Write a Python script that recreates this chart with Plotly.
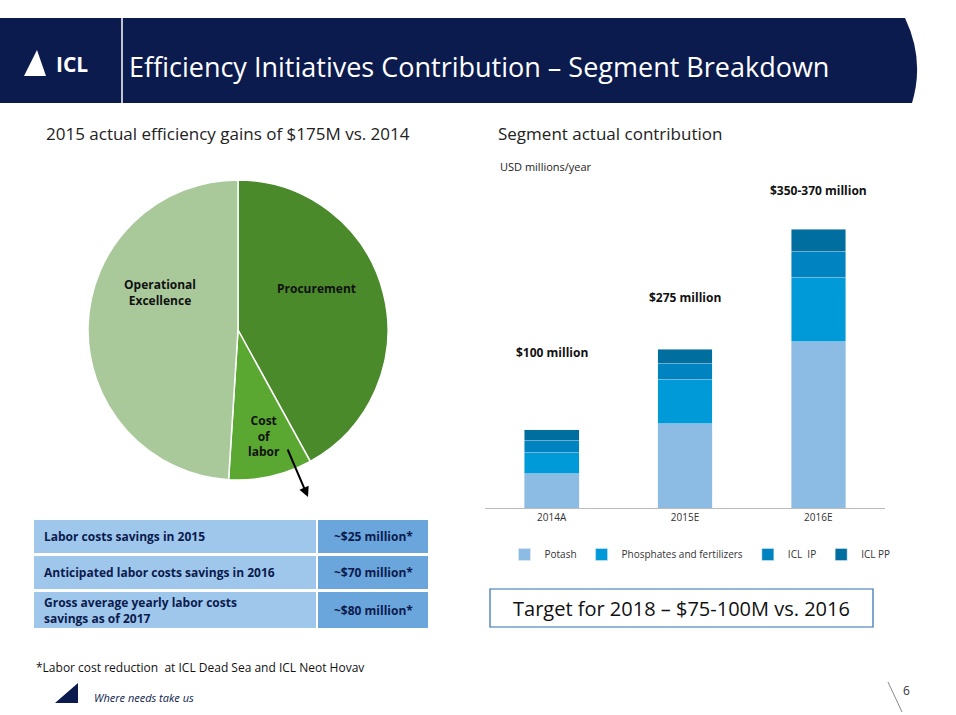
import plotly.graph_objects as go

W, H = 956, 715
FONT = "Open Sans"

pie_labels = ["Procurement", "Cost of labor", "Operational Excellence"]
pie_values = [42, 9, 49]
pie_colors = ["#4a8a2a", "#5aa832", "#a9c99b"]

years = ["2014A", "2015E", "2016E"]
potash = [44, 108, 213]
phosphates = [27, 56, 82]
icl_ip = [15, 21, 33]
icl_pp = [14, 18, 29]
bar_labels = ["$100 million", "$275 million", "$350-370 million"]

table_rows = ["Labor costs savings in 2015",
              "Anticipated labor costs savings in 2016",
              "Gross average yearly labor costs<br>savings as of 2017"]
table_vals = ["~$25 million*", "~$70 million*", "~$80 million*"]


def px(x):
    return x / W


def py(y):
    return 1 - y / H


fig = go.Figure()

fig.add_trace(go.Pie(
    labels=pie_labels, values=pie_values, sort=False, direction="clockwise",
    marker=dict(colors=pie_colors, line=dict(color="white", width=1.5)),
    textinfo="none", hoverinfo="label", showlegend=False,
    domain=dict(x=[px(88), px(388)], y=[py(480), py(180)]),
))

series = [("Potash", potash, "#8cbbe3"),
          ("Phosphates and fertilizers", phosphates, "#009ad9"),
          ("ICL  IP", icl_ip, "#0083c1"),
          ("ICL PP", icl_pp, "#006f9f")]
for name, vals, col in series:
    fig.add_trace(go.Bar(x=years, y=vals, name=name, marker_color=col,
                         width=0.41, xaxis="x", yaxis="y"))

shapes = []
annos = []

# header
shapes.append(dict(type="path", xref="paper", yref="paper", layer="below",
                   path=f"M 0 {py(18)} L {px(905)} {py(18)} Q {px(925)} {py(60)} {px(912)} {py(103)} L 0 {py(103)} Z",
                   fillcolor="#0b1b4d", line=dict(width=0)))
shapes.append(dict(type="line", xref="paper", yref="paper", x0=px(122), x1=px(122),
                   y0=py(18), y1=py(103), line=dict(color="white", width=1.5)))
shapes.append(dict(type="path", xref="paper", yref="paper",
                   path=f"M {px(24)} {py(76)} L {px(37)} {py(50)} L {px(46)} {py(76)} Z",
                   fillcolor="white", line=dict(width=0)))
annos.append(dict(x=px(127), y=py(66), text="Efficiency Initiatives Contribution – Segment Breakdown",
                  xanchor="left", yanchor="middle", font=dict(size=27, color="white", family=FONT)))
annos.append(dict(x=px(72), y=py(64), text="<b>ICL</b>", xanchor="center", yanchor="middle",
                  font=dict(size=21, color="white", family=FONT)))

# section titles
annos.append(dict(x=px(44), y=py(133), text="2015 actual efficiency gains of $175M vs. 2014",
                  xanchor="left", yanchor="middle", font=dict(size=17, color="#222222", family=FONT)))
annos.append(dict(x=px(496), y=py(133), text="Segment actual contribution",
                  xanchor="left", yanchor="middle", font=dict(size=17, color="#222222", family=FONT)))
annos.append(dict(x=px(498), y=py(166), text="USD millions/year",
                  xanchor="left", yanchor="middle", font=dict(size=11, color="#222222", family=FONT)))

# pie labels
for t, x, y in [("Procurement", 316, 288), ("Operational<br>Excellence", 160, 292),
                ("Cost<br>of<br>labor", 264, 436)]:
    annos.append(dict(x=px(x), y=py(y), text="<b>" + t + "</b>", xanchor="center", yanchor="middle",
                      font=dict(size=12, color="#111111", family=FONT)))
annos.append(dict(x=px(308), y=py(497), ax=-21, ay=-49, text="", showarrow=True, arrowhead=2,
                  arrowwidth=2, arrowcolor="black"))

# table
rows_y = [(520, 553), (556, 589), (592, 628)]
for (y0, y1), lab, val in zip(rows_y, table_rows, table_vals):
    shapes.append(dict(type="rect", xref="paper", yref="paper", x0=px(34), x1=px(316),
                       y0=py(y1), y1=py(y0), fillcolor="#9fc7ec", line=dict(width=0)))
    shapes.append(dict(type="rect", xref="paper", yref="paper", x0=px(318), x1=px(428),
                       y0=py(y1), y1=py(y0), fillcolor="#6aa5dc", line=dict(width=0)))
    ym = py((y0 + y1) / 2)
    annos.append(dict(x=px(42), y=ym, text="<b>" + lab + "</b>", xanchor="left", yanchor="middle",
                      align="left", font=dict(size=12, color="#0b1b4d", family=FONT)))
    annos.append(dict(x=px(373), y=ym, text="<b>" + val + "</b>", xanchor="center", yanchor="middle",
                      font=dict(size=12, color="#0b1b4d", family=FONT)))

# target box
shapes.append(dict(type="rect", xref="paper", yref="paper", x0=px(490), x1=px(873),
                   y0=py(627), y1=py(589), fillcolor="white", line=dict(color="#2d6db3", width=1.2)))
annos.append(dict(x=px(681), y=py(608), text="Target for 2018 – $75-100M vs. 2016", xanchor="center",
                  yanchor="middle", font=dict(size=20, color="#111111", family=FONT)))

# footer
annos.append(dict(x=px(34), y=py(667), text="*Labor cost reduction  at ICL Dead Sea and ICL Neot Hovav",
                  xanchor="left", yanchor="middle", font=dict(size=12, color="#111111", family=FONT)))
annos.append(dict(x=px(92), y=py(697), text="<i>Where needs take us</i>", xanchor="left",
                  yanchor="middle", font=dict(size=11, color="#0b1b4d", family=FONT)))
annos.append(dict(x=px(906), y=py(690), text="6", xanchor="center", yanchor="middle",
                  font=dict(size=12, color="#333333", family=FONT)))
shapes.append(dict(type="path", xref="paper", yref="paper",
                   path=f"M {px(55)} {py(703)} L {px(78)} {py(683)} L {px(78)} {py(703)} Z",
                   fillcolor="#0b1b4d", line=dict(width=0)))
shapes.append(dict(type="line", xref="paper", yref="paper", x0=px(888), x1=px(902),
                   y0=py(682), y1=py(712), line=dict(color="#888888", width=1)))

for a in annos:
    a.setdefault("xref", "paper")
    a.setdefault("yref", "paper")
    a.setdefault("showarrow", False)

fig.update_layout(
    width=W, height=H, margin=dict(l=0, r=0, t=0, b=0),
    paper_bgcolor="white", plot_bgcolor="white",
    barmode="stack",
    font=dict(family=FONT),
    xaxis=dict(domain=[px(485), px(885)], showgrid=False, showline=True, linecolor="#bbbbbb",
               ticks="", tickfont=dict(size=10, color="#333333")),
    yaxis=dict(domain=[py(508), py(180)], range=[0, 420], visible=False),
    legend=dict(orientation="h", x=px(700), xanchor="center", y=py(540), yanchor="top",
                font=dict(size=10, color="#333333"), itemwidth=30, traceorder="normal",
                bgcolor="rgba(0,0,0,0)"),
    shapes=shapes, annotations=annos,
)

totals = [sum(v) for v in zip(potash, phosphates, icl_ip, icl_pp)]
label_off = [77, 52, 39]
for yr, t, lab, off in zip(years, totals, bar_labels, label_off):
    fig.add_annotation(x=yr, y=t, xref="x", yref="y", text="<b>" + lab + "</b>", showarrow=False,
                       yshift=off, xanchor="center",
                       font=dict(size=12, color="#111111", family=FONT))

fig.write_html("out.html", config={"displayModeBar": False},
               post_script="document.body.style.margin='0';")
